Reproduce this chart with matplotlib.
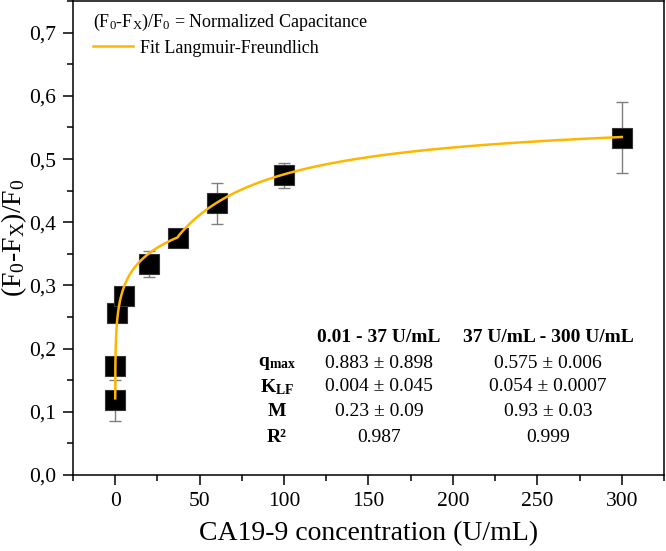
import numpy as np
import matplotlib
matplotlib.use("Agg")
import matplotlib.pyplot as plt
from matplotlib.ticker import MultipleLocator, FuncFormatter

plt.rcParams["font.family"] = ["Liberation Serif", "DejaVu Serif"]
plt.rcParams["mathtext.fontset"] = "custom"
plt.rcParams["mathtext.rm"] = "Liberation Serif"
plt.rcParams["mathtext.it"] = "Liberation Serif"
plt.rcParams["mathtext.bf"] = "Liberation Serif:bold"

conc = [0.01, 0.1, 1, 5, 20, 37, 60, 100, 300]
resp = [0.118, 0.172, 0.257, 0.283, 0.334, 0.375, 0.430, 0.474, 0.534]
resp_err = [0.033, 0.012, 0.010, 0.010, 0.021, 0.010, 0.032, 0.020, 0.056]

# fit parameters for the high range (from the table)
high_params = (0.575, 0.054, 0.93)

table_cols = ["0.01 - 37 U/mL", "37 U/mL - 300 U/mL"]
table_rows = [r"$\mathbf{q_{max}}$", r"$\mathbf{K_{LF}}$", "M", "R²"]
table_low = ["0.883 ± 0.898", "0.004 ± 0.045", "0.23 ± 0.09", "0.987"]
table_high = ["0.575 ± 0.006", "0.054 ± 0.0007", "0.93 ± 0.03", "0.999"]

FIT_COLOR = "#FFB600"


def langmuir_freundlich(x, q, k, m):
    r = (k * np.asarray(x, dtype=float)) ** m
    return q * r / (1 + r)


def fit_low_range(x, y, x_join, y_join):
    # crude grid search for the low concentration part,
    # forced to meet the high range curve at the join
    x = np.append(np.asarray(x, dtype=float), x_join)
    y = np.append(np.asarray(y, dtype=float), y_join)
    w = np.ones_like(x)
    w[-1] = 25.0
    qs = np.linspace(0.3, 1.0, 71)[:, None, None, None]
    ks = np.logspace(-3, 2, 101)[None, :, None, None]
    ms = np.linspace(0.1, 0.8, 71)[None, None, :, None]
    pred = langmuir_freundlich(x[None, None, None, :], qs, ks, ms)
    sse = (w * (pred - y) ** 2).sum(axis=-1)
    i, j, k = np.unravel_index(np.argmin(sse), sse.shape)
    return qs[i, 0, 0, 0], ks[0, j, 0, 0], ms[0, 0, k, 0]


fig = plt.figure(figsize=(6.66, 5.51), dpi=100)
ax = fig.add_axes([0.1096, 0.138, 0.8874, 0.860])

low = [i for i, c in enumerate(conc) if c < 37]
y37 = float(langmuir_freundlich(37, *high_params))
low_params = fit_low_range([conc[i] for i in low], [resp[i] for i in low], 37, y37)

x_low = np.logspace(np.log10(conc[0]), np.log10(37), 300)
x_high = np.linspace(37, 300, 300)
x_fit = np.concatenate([x_low, x_high[1:]])
y_fit = np.concatenate([langmuir_freundlich(x_low, *low_params),
                        langmuir_freundlich(x_high[1:], *high_params)])

ax.errorbar(conc, resp, yerr=resp_err, fmt="none", ecolor="#7f7f7f",
            elinewidth=1.0, capsize=4.5, capthick=1.0, zorder=2)
ax.plot(conc, resp, "s", color="black", markersize=14.5,
        markeredgecolor="#333333", markeredgewidth=0.8, zorder=3)
fit_line, = ax.plot(x_fit, y_fit, color=FIT_COLOR, lw=1.8, zorder=4)

ax.set_xlim(-25, 325)
ax.set_ylim(0, 0.75)
ax.xaxis.set_major_locator(MultipleLocator(50))
ax.xaxis.set_minor_locator(MultipleLocator(25))
ax.yaxis.set_major_locator(MultipleLocator(0.1))
ax.yaxis.set_minor_locator(MultipleLocator(0.05))
ax.yaxis.set_major_formatter(FuncFormatter(lambda v, p: f"{v:.1f}".replace(".", ",")))
ax.tick_params(which="both", direction="out", top=False, right=False,
               labelsize=15.5, width=1.1, color="black")
ax.tick_params(which="major", length=7, pad=5)
ax.tick_params(which="minor", length=4)
for s in ax.spines.values():
    s.set_linewidth(1.1)

ax.set_xlabel("CA19-9 concentration (U/mL)", fontsize=20)
ax.set_ylabel(r"(F$_0$-F$_X$)/F$_0$", fontsize=20)
ax.xaxis.set_label_coords(0.5, -0.098)
ax.yaxis.set_label_coords(-0.075, 0.5)

# legend
ax.text(0.034, 0.955, r"(F$_0$-F$_X$)/F$_0$ = Normalized Capacitance",
        transform=ax.transAxes, fontsize=13, va="center", ha="left")
ax.legend(handles=[fit_line], labels=["Fit Langmuir-Freundlich"],
          loc="center left", bbox_to_anchor=(0.034, 0.901), frameon=False,
          fontsize=13, handlelength=2.2, handletextpad=0.4,
          borderpad=0, borderaxespad=0)

# parameter table
col_x = [0.518, 0.804]
row_y = [0.236, 0.186, 0.133, 0.080]
for cx, head in zip(col_x, table_cols):
    ax.text(cx, 0.291, head, transform=ax.transAxes, ha="center", va="center",
            fontsize=14, fontweight="bold")
for ry, name, v1, v2 in zip(row_y, table_rows, table_low, table_high):
    ax.text(0.345, ry, name, transform=ax.transAxes, ha="center", va="center",
            fontsize=14, fontweight="bold")
    ax.text(col_x[0], ry, v1, transform=ax.transAxes, ha="center", va="center", fontsize=14)
    ax.text(col_x[1], ry, v2, transform=ax.transAxes, ha="center", va="center", fontsize=14)

fig.savefig("out.png", dpi=100)
